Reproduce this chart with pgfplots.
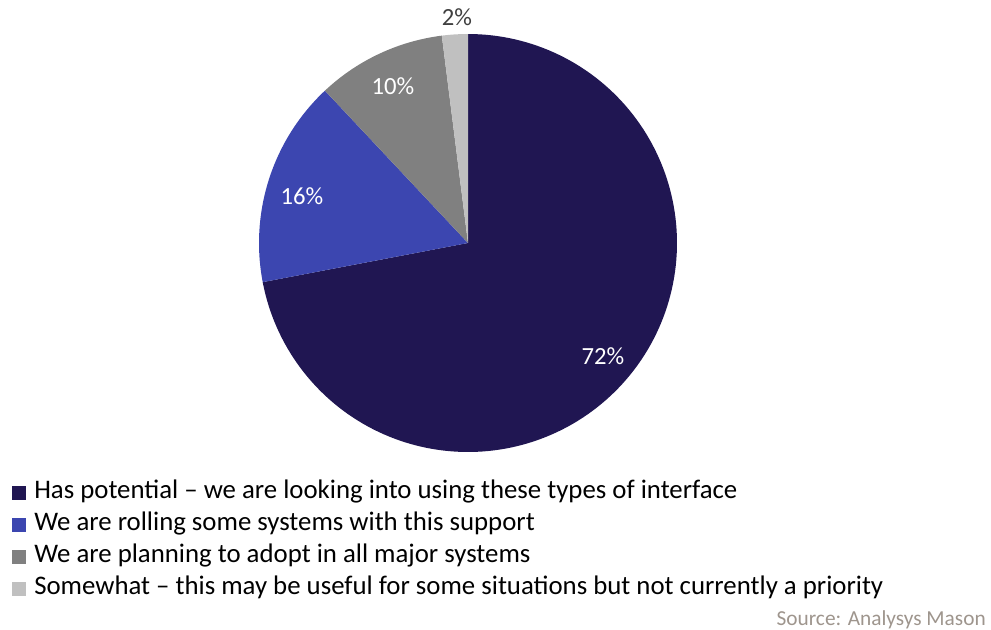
\documentclass[border=0pt]{standalone}
\usepackage{pgfplots}
\pgfplotsset{compat=1.18}
\usepackage{pgfplotstable}
\usepackage{fontspec}
\setmainfont{Carlito}
\definecolor{cA}{HTML}{201652}
\definecolor{cB}{HTML}{3C46B0}
\definecolor{cC}{HTML}{808080}
\definecolor{cD}{HTML}{C0C0C0}
\definecolor{srcgray}{HTML}{9E958D}
\definecolor{lblgray}{HTML}{404040}

\pgfplotstableread{
share
72
16
10
2
}\piedata

\begin{document}
\begin{tikzpicture}
\pgfplotstablegetelem{0}{share}\of\piedata \let\va\pgfplotsretval
\pgfplotstablegetelem{1}{share}\of\piedata \let\vb\pgfplotsretval
\pgfplotstablegetelem{2}{share}\of\piedata \let\vc\pgfplotsretval
\pgfplotstablegetelem{3}{share}\of\piedata \let\vd\pgfplotsretval
\pgfmathsetmacro\aA{90}
\pgfmathsetmacro\aB{\aA-3.6*\va}
\pgfmathsetmacro\aC{\aB-3.6*\vb}
\pgfmathsetmacro\aD{\aC-3.6*\vc}
\pgfmathsetmacro\aE{\aD-3.6*\vd}
\useasboundingbox (0,0) rectangle (743.25pt,471.75pt);
\begin{axis}[
  at={(0pt,0pt)}, anchor=south west,
  scale only axis, width=743.25pt, height=471.75pt,
  xmin=0, xmax=991, ymin=0, ymax=629,
  hide axis, clip=false,
  area legend,
  legend image code/.code={\fill[#1] (0pt,-5.25pt) rectangle (10.5pt,5.25pt);},
  legend cell align=left,
  legend style={at={(axis cs:12,148)}, anchor=north west, draw=none, fill=none,
    inner sep=0pt, row sep=7pt,
    font=\fontsize{20.1}{22}\selectfont,
    nodes={inner sep=0pt, text height=13pt, text depth=4pt},
    /tikz/every odd column/.append style={column sep=6pt}},
]
\addplot[fill=cA, draw=none, domain=\aB:\aA, samples=160, variable=\t]
  ({468+209*cos(t)},{386+209*sin(t)}) -- (axis cs:468,386) -- cycle;
\addlegendentry{Has potential – we are looking into using these types of interface}
\addplot[fill=cB, draw=none, domain=\aC:\aB, samples=60, variable=\t]
  ({468+209*cos(t)},{386+209*sin(t)}) -- (axis cs:468,386) -- cycle;
\addlegendentry{We are rolling some systems with this support}
\addplot[fill=cC, draw=none, domain=\aD:\aC, samples=40, variable=\t]
  ({468+209*cos(t)},{386+209*sin(t)}) -- (axis cs:468,386) -- cycle;
\addlegendentry{We are planning to adopt in all major systems}
\addplot[fill=cD, draw=none, domain=\aE:\aD, samples=10, variable=\t]
  ({468+209*cos(t)},{386+209*sin(t)}) -- (axis cs:468,386) -- cycle;
\addlegendentry{Somewhat – this may be useful for some situations but not currently a priority}

\node[text=white, font=\fontsize{18.5}{21}\selectfont] at (axis cs:603,273) {72\%};
\node[text=white, font=\fontsize{18.5}{21}\selectfont] at (axis cs:302,433) {16\%};
\node[text=white, font=\fontsize{18.5}{21}\selectfont] at (axis cs:393,543) {10\%};
\node[text=lblgray, font=\fontsize{18.5}{21}\selectfont] at (axis cs:457,612) {2\%};
\node[anchor=base east, text=srcgray, inner sep=0pt, font=\fontsize{16}{18}\selectfont] at (axis cs:986,4) {Source: Analysys Mason};
\end{axis}
\end{tikzpicture}
\end{document}
